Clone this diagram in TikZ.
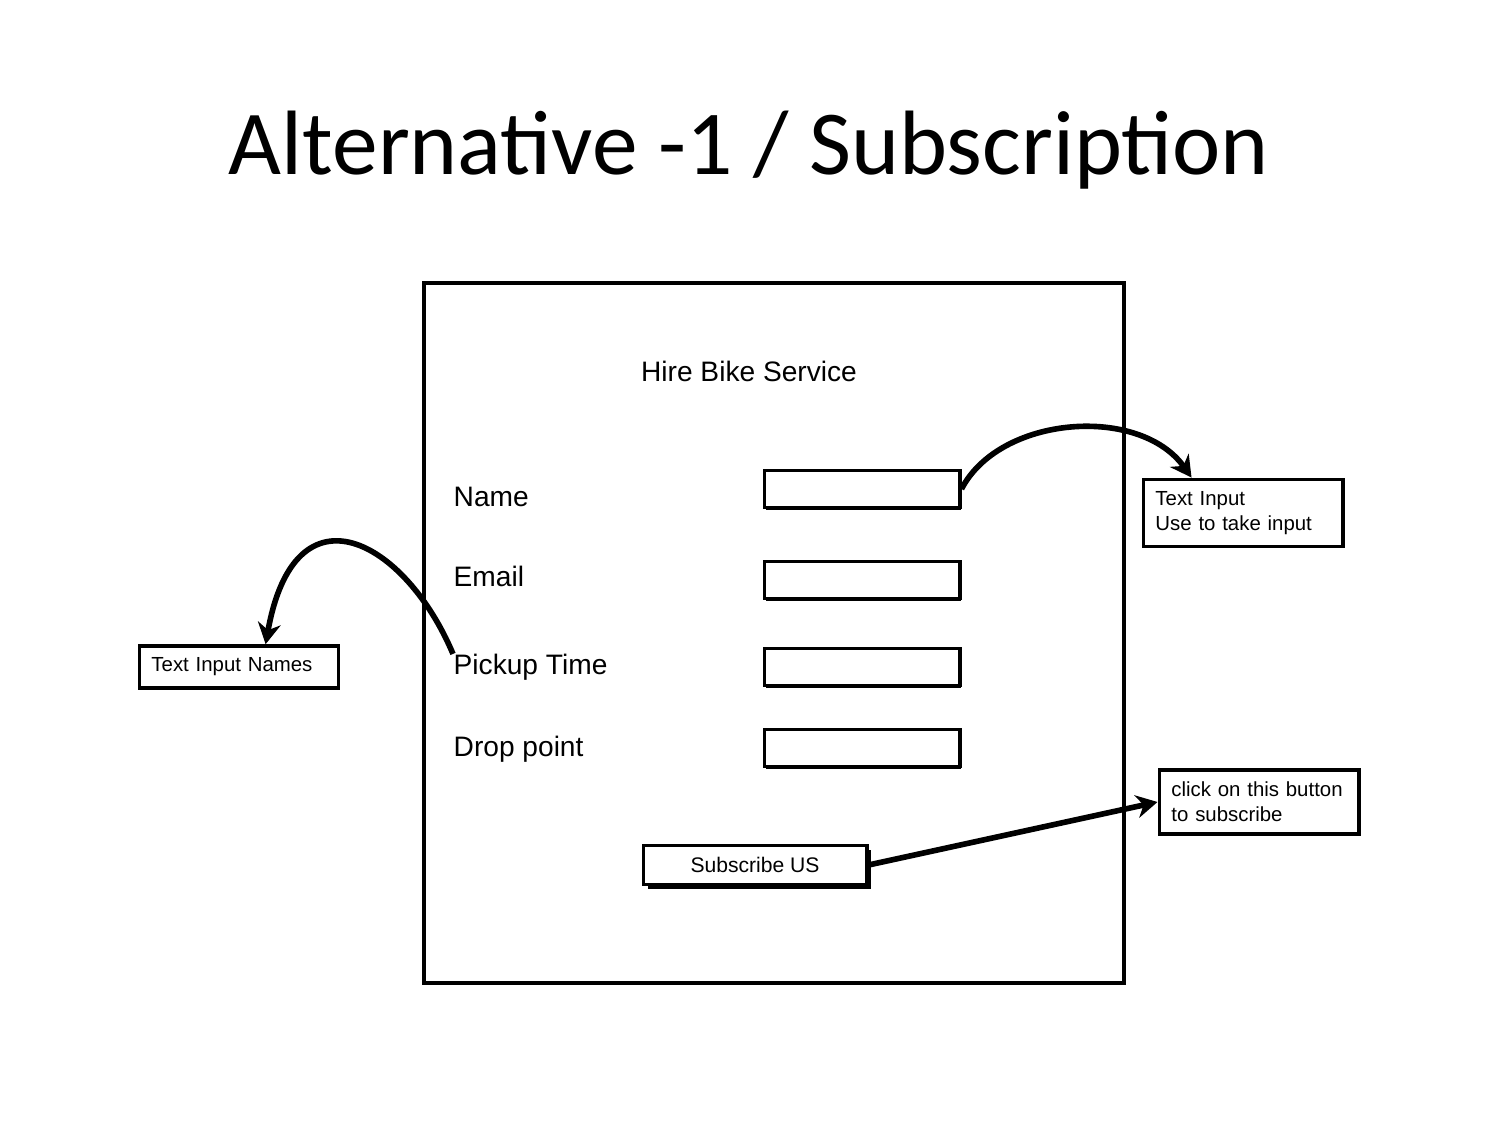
\documentclass[tikz,border=0pt]{standalone}
\usepackage{fontspec}
\setmainfont{Liberation Sans}
\newfontfamily\titlefont{Carlito}
\usetikzlibrary{arrows.meta,shadows}
\tikzset{
  sketch/.style={draw=black,line width=1.1pt,fill=white},
  field/.style={sketch,minimum width=1.95cm,minimum height=0.37cm,
    general shadow={fill=black,shadow xshift=0.4pt,shadow yshift=-0.8pt}},
  note/.style={sketch,font=\fontsize{5.8}{7.2}\selectfont,align=left,
    inner xsep=0.12cm,text width=1.75cm},
  lbl/.style={font=\fontsize{8}{10}\selectfont,anchor=base west,inner sep=0pt},
  pointer/.style={line width=1.6pt,-{Stealth[length=6pt,width=6.5pt]}}
}
\begin{document}
\begin{tikzpicture}[x=0.01cm,y=-0.01cm]
\useasboundingbox (0,0) rectangle (1500,1125);

\node[font=\titlefont\fontsize{26}{30}\selectfont,anchor=base] (title) at (749,175) {Alternative -1 / Subscription};

\node[sketch,minimum size=7cm] (frame) at (774,633) {};
\node[lbl,anchor=base] (head) at (749,382) {Hire Bike Service};

\node[lbl] (lName)   at (453,507) {Name};
\node[lbl] (lEmail)  at (453,587) {Email};
\node[lbl] (lPickup) at (453,675) {Pickup Time};
\node[lbl] (lDrop)   at (453,756) {Drop point};

\node[field] (fName)   at (862,489) {};
\node[field] (fEmail)  at (862,580) {};
\node[field] (fPickup) at (862,667) {};
\node[field] (fDrop)   at (862,748) {};

\node[sketch,minimum width=2.23cm,minimum height=0.34cm,font=\fontsize{6}{7.2}\selectfont,
  general shadow={fill=black,shadow xshift=1.2pt,shadow yshift=-1.2pt}] (btnSub) at (755,865) {Subscribe US};

\node[note,minimum height=0.62cm] (nInput) at (1243,513) {Text Input\\Use to take input};
\node[note,minimum height=0.37cm] (nNames) at (239,667) {Text Input Names};
\node[note,minimum height=0.62cm] (nClick) at (1259,802) {click on this \mbox{button}\\to subscribe};

\coordinate (tInput) at ([xshift=0.5cm]nInput.north west);
\coordinate (tNames) at ([xshift=1.28cm]nNames.north west);

\draw[pointer] (fName.east) .. controls (1000,415) and (1140,405) .. (tInput);
\draw[pointer] (lPickup.north west) .. controls (405,540) and (295,480) .. (tNames);
\draw[pointer] (btnSub.east) -- (nClick.west);
\end{tikzpicture}
\end{document}
